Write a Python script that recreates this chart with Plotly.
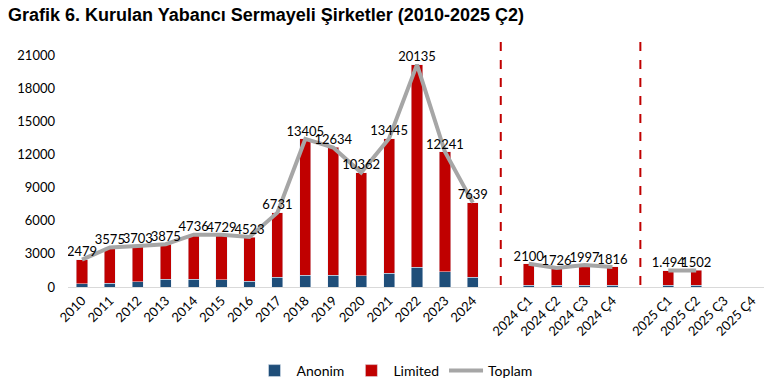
import plotly.graph_objects as go

categories = ["2010", "2011", "2012", "2013", "2014", "2015", "2016", "2017", "2018",
              "2019", "2020", "2021", "2022", "2023", "2024", " ",
              "2024 Ç1", "2024 Ç2", "2024 Ç3", "2024 Ç4", "  ",
              "2025 Ç1", "2025 Ç2", "2025 Ç3", "2025 Ç4"]
toplam = [2479, 3575, 3703, 3875, 4736, 4729, 4523, 6731, 13405,
          12634, 10362, 13445, 20135, 12241, 7639, None,
          2100, 1726, 1997, 1816, None,
          1494, 1502, None, None]
anonim = [300, 360, 480, 720, 720, 660, 540, 880, 1060,
          1060, 1000, 1240, 1790, 1360, 880, None,
          180, 150, 170, 160, None,
          140, 140, None, None]
toplam_labels = ["2479", "3575", "3703", "3875", "4736", "4729", "4523", "6731", "13405",
                 "12634", "10362", "13445", "20135", "12241", "7639", "",
                 "2100", "1726", "1997", "1816", "",
                 "1.494", "1502", "", ""]
limited = [None if t is None else t - a for t, a in zip(toplam, anonim)]
y_ticks = [0, 3000, 6000, 9000, 12000, 15000, 18000, 21000]
y_tick_labels = ["0", "3000", "6000", "9000", "12000", "15000", "18000", "21000"]
separators = [" ", "  "]

FONT = "Lato"
fig = go.Figure()
fig.add_trace(go.Bar(x=categories, y=anonim, name="Anonim", marker_color="#1f4e79"))
fig.add_trace(go.Bar(x=categories, y=limited, name="Limited", marker_color="#c00000"))
fig.add_trace(go.Scatter(x=categories, y=toplam, name="Toplam", mode="lines+text",
                         line=dict(color="#a6a6a6", width=4), connectgaps=False,
                         text=toplam_labels, textposition="top center",
                         textfont=dict(size=13, color="#000000", family=FONT)))

for s in separators:
    fig.add_shape(type="line", xref="x", yref="y", x0=s, x1=s, y0=-1450, y1=22730,
                  line=dict(color="#c00000", width=2, dash="dash"))

fig.update_layout(
    width=772, height=382,
    margin=dict(l=60, r=14, t=25, b=103),
    barmode="stack", bargap=0.6,
    plot_bgcolor="white", paper_bgcolor="white",
    font=dict(family=FONT, size=13, color="#000000"),
    title=dict(text="<b>Grafik 6. Kurulan Yabancı Sermayeli Şirketler (2010-2025 Ç2)</b>",
               x=0.0, xanchor="left", y=1.0, yanchor="top",
               font=dict(family="Liberation Sans", size=18, color="#000000")),
    legend=dict(orientation="h", xref="paper", x=(387 - 60) / 698, xanchor="center",
                yref="container", y=1 - 363 / 382, yanchor="middle",
                font=dict(size=14, family=FONT), traceorder="normal", itemwidth=34),
    xaxis=dict(type="category", categoryorder="array", categoryarray=categories,
               range=[-0.5, len(categories) - 0.5],
               tickangle=-45, showline=True, linecolor="#d9d9d9", linewidth=1,
               ticks="", showgrid=False, automargin=False, tickfont=dict(size=13, family=FONT)),
    yaxis=dict(range=[0, 23000], tickvals=y_ticks, ticktext=y_tick_labels, showgrid=False,
               zeroline=False, showline=False, ticks="", automargin=False,
               ticklabelstandoff=12, tickfont=dict(size=13, family=FONT)),
)
fig.write_html("out.html")
